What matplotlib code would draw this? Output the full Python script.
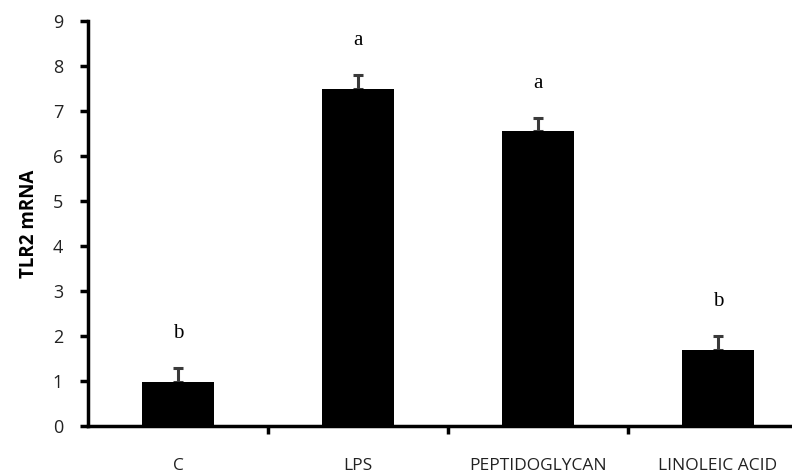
import matplotlib
matplotlib.use("Agg")
import matplotlib.pyplot as plt
import numpy as np

categories = ["C", "LPS", "PEPTIDOGLYCAN", "LINOLEIC ACID"]
values = [0.97, 7.5, 6.55, 1.7]
errors = [0.33, 0.3, 0.3, 0.3]
letters = ["b", "a", "a", "b"]
yticks = [0, 1, 2, 3, 4, 5, 6, 7, 8, 9]

fig = plt.figure(figsize=(7.92, 4.74), dpi=100)
ax = fig.add_axes([88/792, 1 - 426/474, 720/792, (426 - 21)/474])

x = np.arange(len(categories))
ax.bar(x, values, width=0.4, color="black", zorder=2)
err = np.vstack([np.zeros(len(errors)), errors])
ax.errorbar(x, values, yerr=err, fmt="none", ecolor="#3a3a3a", elinewidth=2.2,
            capsize=3.5, capthick=2.2, zorder=1)
for xi, v, e, l in zip(x, values, errors, letters):
    ax.text(xi, v + e + 0.55, l, ha="center", va="bottom", fontsize=15,
            family="Liberation Serif", color="black")

ax.set_xlim(-0.5, 3.5)
ax.set_ylim(0, 9)
ax.set_yticks(yticks)
ax.set_yticklabels([str(t) for t in yticks], family="Open Sans", fontsize=13, color="#222222")
ax.set_xticks([0.5, 1.5, 2.5])
ax.set_xticklabels([])
ax.set_xticks(x, minor=True)
ax.set_xticklabels(categories, minor=True, family="Open Sans", fontsize=12.5, color="#222222")
ax.tick_params(axis="x", which="minor", length=0, pad=23)
ax.tick_params(axis="x", which="major", direction="out", length=6, width=2.5)
ax.tick_params(axis="y", direction="out", length=6, width=2.5, pad=12)

for s in ["top", "right"]:
    ax.spines[s].set_visible(False)
for s in ["left", "bottom"]:
    ax.spines[s].set_linewidth(2.5)

ax.set_ylabel("TLR2 mRNA", family="Open Sans", fontweight="bold", fontsize=13.5, labelpad=10)

fig.savefig("out.png", dpi=100)
